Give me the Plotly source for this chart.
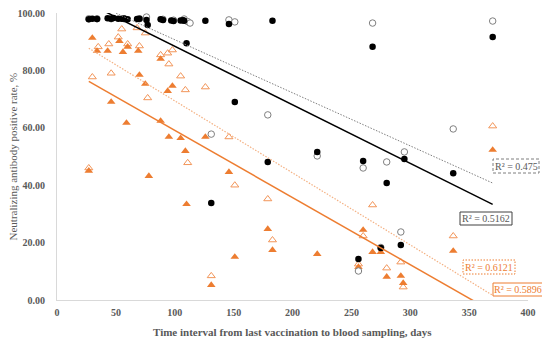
import plotly.graph_objects as go

# ---- data (days, %) ----
black_x = [27, 30, 34, 43, 46, 48, 52, 55, 57, 60, 68, 70, 76, 77, 88, 90, 97, 99, 105, 107, 108, 110,
           126, 146, 183, 268, 370, 151, 221, 260, 179, 131, 295, 336.5, 280, 292, 275, 256]
black_y = [97.8, 98.0, 97.9, 98.2, 98.0, 98.3, 98.0, 98.0, 98.1, 97.8, 97.9, 98.0, 97.6, 95.8, 97.8, 97.6,
           97.4, 97.2, 97.4, 97.5, 97.3, 89.5, 97.3, 96.2, 97.3, 88.2, 91.6, 69.0, 51.6, 48.4, 48.1, 33.8,
           49.1, 44.2, 40.8, 19.2, 18.1, 14.3]

open_x = [27, 34, 46, 57, 70, 90, 99, 76, 108, 111, 113, 146, 151, 268, 370, 179, 131, 221, 336.5, 295,
          260, 280, 292, 256, 275]
open_y = [98.0, 98.0, 98.0, 98.0, 98.0, 97.8, 97.5, 98.6, 97.9, 97.0, 96.5, 97.6, 96.9, 96.5, 97.2, 64.5,
          57.8, 50.2, 59.6, 51.6, 46.0, 48.1, 23.7, 10.1, 18.3]

trif_x = [30, 27, 34, 43, 46, 53, 56, 59, 60, 69, 70, 75, 78, 88, 88, 94, 98, 95, 105, 109, 110, 126,
          146, 131, 151, 179, 183, 221, 256, 260, 268, 275, 280, 292, 294, 336.5, 370]
trif_y = [91.3, 45.0, 86.8, 86.8, 69.0, 90.2, 86.4, 61.7, 88.2, 86.8, 78.4, 75.3, 43.2, 84.0, 62.4, 72.8,
          74.6, 56.8, 56.4, 51.9, 33.4, 56.8, 44.6, 5.2, 15.0, 24.7, 17.4, 16.0, 11.5, 24.4, 16.7, 16.7,
          8.1, 8.4, 5.9, 17.1, 52.3]

trio_x = [30, 27, 35, 44, 46, 52, 55, 60, 68, 70, 75, 77, 88, 94, 98, 95, 105, 109, 111, 126, 146, 151,
          131, 179, 183, 256, 260, 268, 280, 292, 294, 336.5, 370]
trio_y = [77.7, 46.0, 88.2, 89.2, 79.0, 91.6, 94.4, 89.2, 94.8, 88.5, 93.0, 70.4, 85.4, 86.0, 87.1, 82.2,
          78.0, 73.2, 47.8, 74.2, 56.8, 40.0, 8.4, 35.2, 20.9, 12.5, 22.3, 33.1, 11.1, 13.2, 4.5, 22.3,
          60.6]

# linear trendlines (intercept, slope) and R² labels as shown
trend_black = [108.8, -0.204]
trend_open = [109.2, -0.185]
trend_trif = [82.5, -0.234]
trend_trio = [94.5, -0.251]
r2_labels = ["R² = 0.475", "R² = 0.5162", "R² = 0.6121", "R² = 0.5896"]

x_ticks = [0, 50, 100, 150, 200, 250, 300, 350, 400]
y_ticks = [0, 20, 40, 60, 80, 100]

ORANGE = "#ED7D31"
ORANGE_L = "#F29559"
ORANGE_LINE_L = "#F4B183"
GRAY = "#595959"
SERIF = "Liberation Serif, Times New Roman, serif"

fig = go.Figure()

def trend(xs, coef):
    x0, x1 = min(xs), max(xs)
    return [x0, x1], [coef[0] + coef[1] * x0, coef[0] + coef[1] * x1]

fig.add_trace(go.Scatter(x=trio_x, y=trio_y, mode="markers",
                         marker=dict(symbol="triangle-up-open", size=7, color=ORANGE_L,
                                     line=dict(width=1, color=ORANGE_L))))
fig.add_trace(go.Scatter(x=trif_x, y=trif_y, mode="markers",
                         marker=dict(symbol="triangle-up", size=7.5, color=ORANGE,
                                     line=dict(width=0))))
fig.add_trace(go.Scatter(x=open_x, y=open_y, mode="markers",
                         marker=dict(symbol="circle", size=6.5, color="white",
                                     line=dict(width=1, color="#7F7F7F"))))
fig.add_trace(go.Scatter(x=black_x, y=black_y, mode="markers",
                         marker=dict(symbol="circle", size=6.5, color="black",
                                     line=dict(width=0))))

for xs, coef, col, dash, w in [
    (open_x, trend_open, "#7F7F7F", "1.5px,1.5px", 1),
    (black_x, trend_black, "black", "solid", 1.5),
    (trio_x, trend_trio, ORANGE_LINE_L, "1.5px,1.5px", 1.2),
    (trif_x, trend_trif, ORANGE, "solid", 1.5),
]:
    lx, ly = trend(xs, coef)
    fig.add_trace(go.Scatter(x=lx, y=ly, mode="lines",
                             line=dict(color=col, dash=dash, width=w), hoverinfo="skip"))

# page has an 8px body margin; figure is sized so the plot area lands at
# left 57, right 528, top 13, bottom 300 in the 550x346 window
OFF = 8
W, H = 550 - OFF, 346 - OFF
PL, PR, PT, PB = 57, 528, 13, 300

def px2paper(px, py):
    return (px - PL) / (PR - PL), (PB - py) / (PB - PT)

boxes = [
    ((493, 539, 159, 173), GRAY, "#7F7F7F", "3px,2px"),
    ((460, 512, 212, 225), GRAY, "#404040", "solid"),
    ((463, 515, 260, 274), ORANGE, ORANGE, "1.5px,1.5px"),
    ((493, 543, 283, 296), ORANGE, ORANGE, "solid"),
]
shapes = []
annotations = []
for (bx, tcol, bcol, dash), label in zip(boxes, r2_labels):
    x0, y0 = px2paper(bx[0], bx[3])
    x1, y1 = px2paper(bx[1], bx[2])
    shapes.append(dict(type="rect", xref="paper", yref="paper", x0=x0, x1=x1, y0=y0, y1=y1,
                       line=dict(color=bcol, width=1, dash=dash), fillcolor="white", layer="above"))
    annotations.append(dict(xref="paper", yref="paper", x=(x0 + x1) / 2, y=(y0 + y1) / 2,
                            text=label, showarrow=False, xanchor="center", yanchor="middle",
                            font=dict(family=SERIF, size=10, color=tcol)))

annotations.append(dict(xref="paper", yref="paper", x=0.5, y=0, yshift=-32,
                        text="Time interval from last vaccination to blood sampling, days",
                        showarrow=False, xanchor="center", yanchor="middle",
                        font=dict(family=SERIF, size=11, color=GRAY, weight="bold")))
annotations.append(dict(xref="paper", yref="paper", x=0, y=0.5, xshift=-45,
                        text="Neutralizing antibody positive rate, %", textangle=-90,
                        showarrow=False, xanchor="center", yanchor="middle",
                        font=dict(family=SERIF, size=11, color=GRAY)))

fig.update_layout(
    width=W, height=H,
    margin=dict(l=PL - OFF, r=550 - PR, t=PT - OFF, b=346 - PB),
    paper_bgcolor="white", plot_bgcolor="white",
    showlegend=False,
    shapes=shapes, annotations=annotations,
    xaxis=dict(range=[0, 400], tickvals=x_ticks, ticktext=[str(v) for v in x_ticks],
               showgrid=False, zeroline=False, showline=True, linecolor="#D9D9D9", linewidth=1,
               ticks="", ticklabelstandoff=3, ticklabeloverflow="allow", automargin=False,
               tickfont=dict(family=SERIF, size=10, color=GRAY, weight="bold")),
    yaxis=dict(range=[0, 100], tickvals=y_ticks, ticktext=[f"{v:.2f}" for v in y_ticks],
               showgrid=False, zeroline=False, showline=True, linecolor="#D9D9D9", linewidth=1,
               ticks="", ticklabelstandoff=9, ticklabeloverflow="allow", automargin=False,
               tickfont=dict(family=SERIF, size=10, color=GRAY, weight="bold")),
)

fig.write_html("out.html")
